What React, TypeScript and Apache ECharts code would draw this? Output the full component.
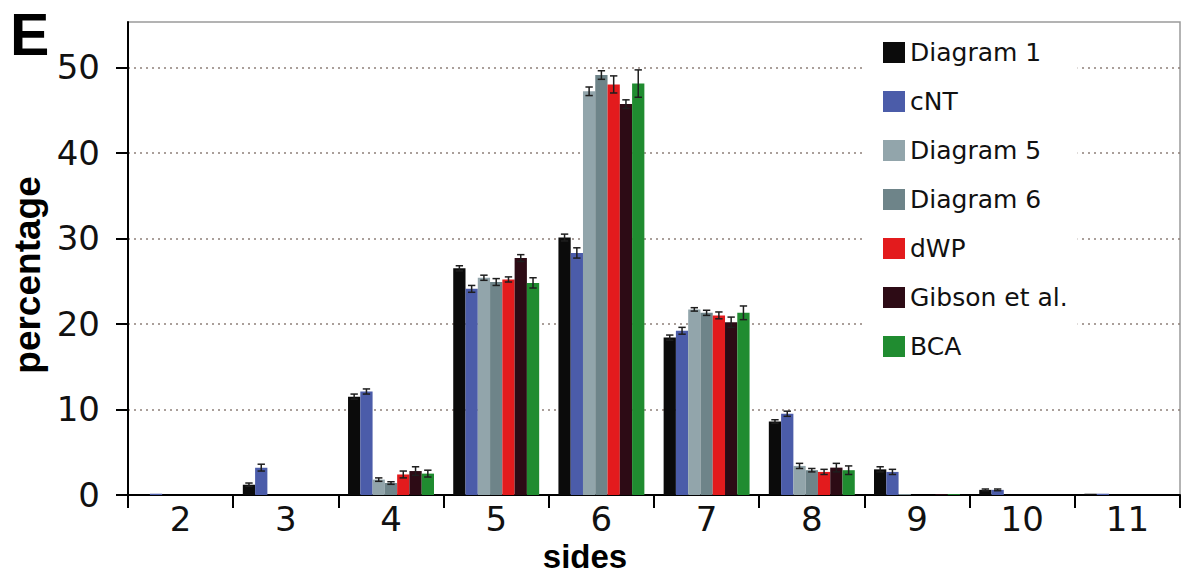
import React, { useEffect, useRef } from "react";
import * as echarts from "echarts";

const categories = ["2", "3", "4", "5", "6", "7", "8", "9", "10", "11"];
const seriesNames = ["Diagram 1", "cNT", "Diagram 5", "Diagram 6", "dWP", "Gibson et al.", "BCA"];
const seriesColors = ["#0b0b0b", "#4b5ca9", "#92a5ab", "#6e8489", "#e31b1d", "#2d0b15", "#208c30"];

const diagram1 = [0, 1.2, 11.5, 26.5, 30.1, 18.4, 8.6, 3.0, 0.6, 0.15];
const cnt = [0.15, 3.2, 12.1, 24.1, 28.3, 19.2, 9.5, 2.7, 0.6, 0.15];
const diagram5 = [0, 0, 1.8, 25.4, 47.2, 21.7, 3.4, 0.1, 0, 0];
const diagram6 = [0, 0, 1.4, 24.9, 49.1, 21.3, 2.9, 0, 0, 0];
const dwp = [0, 0, 2.4, 25.2, 48.0, 21.0, 2.7, 0, 0, 0];
const gibson = [0, 0, 2.8, 27.7, 45.7, 20.2, 3.2, 0.1, 0, 0];
const bca = [0, 0, 2.5, 24.8, 48.1, 21.3, 2.9, 0.1, 0, 0];

const diagram1Err = [0, 0.2, 0.3, 0.3, 0.4, 0.3, 0.2, 0.3, 0.1, 0];
const cntErr = [0, 0.4, 0.3, 0.4, 0.6, 0.4, 0.3, 0.3, 0.1, 0];
const diagram5Err = [0, 0, 0.2, 0.3, 0.5, 0.2, 0.3, 0, 0, 0];
const diagram6Err = [0, 0, 0.15, 0.4, 0.5, 0.3, 0.2, 0, 0, 0];
const dwpErr = [0, 0, 0.4, 0.3, 1.0, 0.4, 0.3, 0, 0, 0];
const gibsonErr = [0, 0, 0.5, 0.4, 0.5, 0.6, 0.5, 0, 0, 0];
const bcaErr = [0, 0, 0.4, 0.6, 1.6, 0.8, 0.5, 0, 0, 0];

const yTicks = [0, 10, 20, 30, 40, 50];

const values = [diagram1, cnt, diagram5, diagram6, dwp, gibson, bca];
const errors = [diagram1Err, cntErr, diagram5Err, diagram6Err, dwpErr, gibsonErr, bcaErr];

const CAT_GAP = 0.183;
const TICK_FONT = "DejaVu Sans";

export default function App() {
  const ref = useRef<HTMLDivElement>(null);

  useEffect(() => {
    if (!ref.current) return;
    const chart = echarts.init(ref.current, undefined, { renderer: "svg" });
    const n = seriesNames.length;

    const barSeries = seriesNames.map((name, i) => ({
      name,
      type: "bar",
      data: values[i],
      barGap: "0%",
      barCategoryGap: (CAT_GAP * 100).toFixed(1) + "%",
      itemStyle: { color: seriesColors[i] },
      z: 2,
    }));

    const errSeries = seriesNames.map((name, i) => ({
      name: name + " error",
      type: "custom",
      z: 3,
      data: values[i]
        .map((v, k) => (errors[i][k] > 0 ? [k, v - errors[i][k], v + errors[i][k]] : null))
        .filter((d) => d !== null),
      renderItem: (params: any, api: any) => {
        const cat = api.value(0);
        const lo = api.value(1);
        const hi = api.value(2);
        const band = api.size([1, 0])[0];
        const barW = (band * (1 - CAT_GAP)) / n;
        const top = api.coord([cat, hi]);
        const bot = api.coord([cat, lo]);
        const x = top[0] + (i - (n - 1) / 2) * barW;
        const cw = barW * 0.6;
        const st = { stroke: "#1e1e1e", lineWidth: 1.5 };
        return {
          type: "group",
          children: [
            { type: "line", shape: { x1: x, y1: bot[1], x2: x, y2: top[1] }, style: st },
            { type: "line", shape: { x1: x - cw / 2, y1: top[1], x2: x + cw / 2, y2: top[1] }, style: st },
            { type: "line", shape: { x1: x - cw / 2, y1: bot[1], x2: x + cw / 2, y2: bot[1] }, style: st },
          ],
        };
      },
    }));

    chart.setOption({
      animation: false,
      backgroundColor: "#ffffff",
      grid: {
        left: 128,
        right: 1,
        top: 22,
        bottom: 79,
        show: true,
        borderColor: "#9a9a9a",
        borderWidth: 1.5,
        backgroundColor: "transparent",
      },
      legend: {
        data: seriesNames,
        orient: "vertical",
        left: 862,
        top: 30,
        padding: [10, 10, 10, 21],
        itemWidth: 22,
        itemHeight: 21,
        itemGap: 24,
        icon: "rect",
        backgroundColor: "#ffffff",
        textStyle: { fontSize: 25, lineHeight: 25, color: "#111", fontFamily: TICK_FONT },
      },
      xAxis: {
        type: "category",
        data: categories,
        boundaryGap: true,
        axisLine: { show: true, lineStyle: { color: "#000", width: 2 } },
        axisTick: { show: true, length: 13, lineStyle: { color: "#000", width: 2 } },
        axisLabel: { fontSize: 34, lineHeight: 26, margin: 11, color: "#111", fontFamily: TICK_FONT },
        splitLine: { show: false },
      },
      yAxis: {
        type: "value",
        min: 0,
        max: 55.3,
        interval: 10,
        axisLine: { show: true, lineStyle: { color: "#000", width: 2 } },
        axisTick: { show: true, length: 12, lineStyle: { color: "#000", width: 2 }, customValues: yTicks },
        axisLabel: { fontSize: 34, margin: 28, color: "#111", fontFamily: TICK_FONT, customValues: yTicks },
        splitLine: { show: true, lineStyle: { color: "#8f8079", type: [2, 4], width: 1.5 } },
      },
      graphic: [
        {
          type: "text",
          x: 10,
          y: 35,
          style: {
            text: "E",
            font: "bold 59px 'Liberation Sans', Arial, sans-serif",
            fill: "#000",
            align: "left",
            verticalAlign: "middle",
          },
        },
        {
          type: "text",
          x: 27,
          y: 275,
          rotation: Math.PI / 2,
          style: {
            text: "percentage",
            font: "bold 37px 'Liberation Sans', Arial, sans-serif",
            fill: "#000",
            align: "center",
            verticalAlign: "middle",
          },
        },
        {
          type: "text",
          x: 585,
          y: 556.5,
          style: {
            text: "sides",
            font: "bold 33px 'Liberation Sans', Arial, sans-serif",
            lineHeight: 28,
            fill: "#000",
            align: "center",
            verticalAlign: "middle",
          },
        },
      ],
      series: [...barSeries, ...errSeries],
    });

    return () => chart.dispose();
  }, []);

  return (
    <div
      ref={ref}
      style={{ position: "fixed", left: 0, top: 0, width: 1181, height: 574, background: "#fff" }}
    />
  );
}
